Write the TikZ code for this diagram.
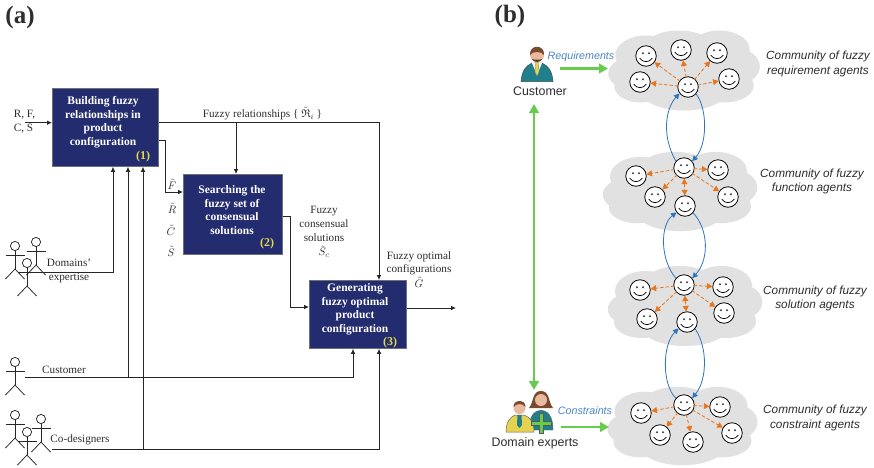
\documentclass[tikz,border=0pt]{standalone}
\usepackage{amssymb}
\usepackage{fontspec}
\setmainfont{Liberation Serif}
\newfontfamily\sansf{Liberation Sans}
\usetikzlibrary{arrows.meta,calc}
\definecolor{navy}{HTML}{232C6E}
\definecolor{boxedge}{HTML}{6E7078}
\definecolor{numyel}{HTML}{E4D94A}
\definecolor{txt}{HTML}{2E2E2E}
\definecolor{cloudg}{HTML}{E1E1E1}
\definecolor{orng}{HTML}{E8761C}
\definecolor{blueln}{HTML}{2F75BB}
\definecolor{bluetx}{HTML}{4A86C5}
\definecolor{grn}{HTML}{66CC4C}
\definecolor{teal1}{HTML}{1F7F8C}
\definecolor{skin}{HTML}{E9B9A0}
\definecolor{hair}{HTML}{7A4A30}
\definecolor{yel}{HTML}{E6D24E}
\tikzset{
  procbox/.style={draw=boxedge,line width=.8pt,fill=navy,anchor=north west,inner sep=0pt},
  boxtext/.style={text=white,align=center,font=\fontsize{11.5}{13.5}\selectfont\bfseries,inner sep=0pt},
  numtext/.style={text=numyel,font=\fontsize{12}{13}\selectfont\bfseries,inner sep=0pt},
  lbl/.style={text=txt,align=center,font=\fontsize{11.2}{13.7}\selectfont,inner sep=0pt},
  head/.style={font=\fontsize{25}{26}\selectfont\bfseries,text=txt,inner sep=0pt},
  sanslbl/.style={text=txt,font=\sansf\fontsize{12.4}{13}\selectfont,inner sep=0pt},
  bluelbl/.style={text=bluetx,font=\sansf\itshape\fontsize{10.7}{12}\selectfont,inner sep=0pt},
  cloudlbl/.style={text=txt,align=center,font=\sansf\itshape\fontsize{11.8}{14.5}\selectfont,inner sep=0pt},
  wire/.style={draw=black!85,line width=.8pt},
  wirearr/.style={wire,-{Latex[length=5pt,width=4.6pt]}},
  stick/.style={draw=black!85,line width=.75pt},
  grnarr/.style={draw=grn,line width=2.7pt,-{Triangle[length=9pt,width=9.5pt]}},
  grnboth/.style={draw=grn,line width=2.7pt,{Triangle[length=9pt,width=9.5pt]}-{Triangle[length=9pt,width=9.5pt]}},
  orarr/.style={draw=orng,line width=.8pt,dash pattern=on 3.5pt off 2pt,-{Triangle[length=5.5pt,width=6pt,fill=orng]},shorten <=-1pt},
  orboth/.style={draw=orng,line width=.8pt,dash pattern=on 3.5pt off 2pt,{Triangle[length=5.5pt,width=6pt,fill=orng]}-{Triangle[length=5.5pt,width=6pt,fill=orng]}},
  blarr/.style={draw=blueln,line width=.8pt,-{Triangle[length=5.5pt,width=5.5pt,fill=blueln]}},
  smiley/.style={circle,draw=black,line width=.8pt,fill=white,minimum size=20.5pt,inner sep=0pt,
    path picture={\begin{scope}[shift={(path picture bounding box.center)}]
      \fill[black!75] (-3,-2.8) circle[radius=1.15];
      \fill[black!75] (3,-2.8) circle[radius=1.15];
      \draw[black,line width=.7pt] (-6.3,2.2) .. controls (-3,6.8) and (3,6.8) .. (6.3,2.2);
    \end{scope}}},
}
\newcommand{\stickman}[2]{%
  \draw[stick] (#1,#2) circle[radius=4.6];
  \draw[stick] (#1,#2+4.6) -- (#1,#2+23);
  \draw[stick] (#1-9.5,#2+9.3) -- (#1+9.5,#2+9.3);
  \draw[stick] (#1-9.5,#2+33) -- (#1,#2+23) -- (#1+9.5,#2+33);
}
\newcommand{\cloudshape}[4]{%
  \begin{scope}[shift={(#1,#2)},xscale=#3,yscale=#4]
    \fill[cloudg] (0,0) ellipse[x radius=64,y radius=31]
      (-38,-15) ellipse[x radius=30,y radius=20]
      (-5,-23) ellipse[x radius=34,y radius=17]
      (35,-21) ellipse[x radius=30,y radius=19]
      (52,-4) ellipse[x radius=23,y radius=18]
      (-52,3) ellipse[x radius=23,y radius=16]
      (-42,16) ellipse[x radius=27,y radius=16]
      (0,21) ellipse[x radius=42,y radius=19]
      (40,15) ellipse[x radius=29,y radius=17];
  \end{scope}
}
\begin{document}
\begin{tikzpicture}[x=1pt,y=-1pt]
\useasboundingbox (0,0) rectangle (874,467);
\fill[white] (0,0) rectangle (874,467);

% ---------- panel (a)
\node[head] (pa) at (20,17) {(a)};
\node[procbox,minimum width=106pt,minimum height=78pt] (b1) at (52,88) {};
\node[procbox,minimum width=99pt,minimum height=80pt] (b2) at (183,174) {};
\node[procbox,minimum width=97pt,minimum height=68pt] (b3) at (309,280) {};
\node[boxtext] (t1) at (103,122) {Building fuzzy\\relationships in\\product\\configuration};
\node[boxtext] (t2) at (232,210) {Searching the\\fuzzy set of\\consensual\\solutions};
\node[boxtext] (t3) at (355,309.5) {Generating\\fuzzy optimal\\product\\configuration};
\node[numtext] (n1) at (143,156.5) {(1)};
\node[numtext] (n2) at (267,243.5) {(2)};
\node[numtext] (n3) at (390,343) {(3)};

\coordinate (inS) at (25,122.7);
\coordinate (relTurn) at (379,122);
\coordinate (relJ) at (236,122);
\coordinate (fOut) at (165,140);
\coordinate (fIn) at (165,192);
\coordinate (sOut) at (290,216);
\coordinate (sIn) at (290,307);
\coordinate (gOut) at (456,308);
\coordinate (domS) at (18,272);
\coordinate (domT) at (113,272);
\coordinate (cusS) at (25,377);
\coordinate (cusJ) at (128,377);
\coordinate (cusT) at (353,377);
\coordinate (codS) at (52,449);
\coordinate (codJ) at (143,450);
\coordinate (codT) at (379,449);

\draw[wirearr] (inS) -- (inS -| b1.west);
\draw[wirearr] (relTurn -| b1.east) -- (relTurn) -- (relTurn |- b3.north);
\draw[wirearr] (relJ) -- (relJ |- b2.north);
\draw[wirearr] (fOut -| b1.east) -- (fOut) -- (fIn) -- (fIn -| b2.west);
\draw[wirearr] (sOut -| b2.east) -- (sOut) -- (sIn) -- (sIn -| b3.west);
\draw[wirearr] (gOut -| b3.east) -- (gOut);
\draw[wirearr] (domS) -- (domT) -- (domT |- b1.south);
\draw[wirearr] (cusJ) -- (cusJ |- b1.south);
\draw[wirearr] (codJ) -- (codJ |- b1.south);
\draw[wirearr] (cusS) -- (cusT) -- (cusT |- b3.south);
\draw[wirearr] (codS) -- (codT) -- (codT |- b3.south);

\node[lbl,align=left] (lin) at (24.5,122) {R, F,\\C, S};
\node[lbl] (lrel) at (262.5,114) {Fuzzy relationships \{ $\tilde{\mathfrak{R}}_i$ \}};
\node[lbl] (lf) at (172,184) {$\tilde{F}$};
\node[lbl] (lr) at (172,208) {$\tilde{R}$};
\node[lbl] (lc) at (171,230) {$\tilde{C}$};
\node[lbl] (ls) at (171,251) {$\tilde{S}$};
\node[lbl] (lcons) at (324,232) {Fuzzy\\consensual\\solutions\\[1pt]$\tilde{S}_c$};
\node[lbl] (lopt) at (419,269.5) {Fuzzy optimal\\configurations\\[1pt]$\tilde{G}$};
\node[lbl] (ldom) at (69,271) {Domains'\\expertise};
\node[lbl] (lcus) at (64,370) {Customer};
\node[lbl] (lcod) at (80,440) {Co-designers};

\stickman{15}{246}\stickman{36}{242}\stickman{27}{263}
\stickman{15}{362}
\stickman{15}{415}\stickman{41}{419}\stickman{27}{432}

% ---------- panel (b)
\node[head] (pb) at (510,16) {(b)};
\cloudshape{684}{70.5}{1.01}{1}
\cloudshape{680}{191.5}{1.03}{.99}
\cloudshape{685}{306}{1.03}{1}
\cloudshape{682.5}{426}{1}{.98}

% cloud 1
\node[smiley] (c1a) at (646,56) {};
\node[smiley] (c1b) at (681,50) {};
\node[smiley] (c1c) at (717,53) {};
\node[smiley] (c1d) at (640,82) {};
\node[smiley] (c1e) at (729,79) {};
\node[smiley] (c1) at (688,87) {};
% cloud 2
\node[smiley] (c2a) at (636,176) {};
\node[smiley] (c2b) at (718,170) {};
\node[smiley] (c2c) at (655,197) {};
\node[smiley] (c2d) at (728,197) {};
\node[smiley] (c2e) at (685,206) {};
\node[smiley] (c2) at (684,168) {};
% cloud 3
\node[smiley] (c3a) at (640,290) {};
\node[smiley] (c3b) at (723,287) {};
\node[smiley] (c3c) at (647,319) {};
\node[smiley] (c3d) at (724,313) {};
\node[smiley] (c3e) at (687,322) {};
\node[smiley] (c3) at (684,285) {};
% cloud 4
\node[smiley] (c4a) at (641,413) {};
\node[smiley] (c4b) at (720,407) {};
\node[smiley] (c4c) at (660,435) {};
\node[smiley] (c4d) at (732,433) {};
\node[smiley] (c4e) at (693,442) {};
\node[smiley] (c4) at (684,405) {};

\foreach \t in {c1a,c1b,c1c,c1d,c1e}{\draw[orarr] (c1) -- (\t);}
\foreach \t in {c2a,c2b,c2c,c2d}{\draw[orarr] (c2) -- (\t);}
\draw[orboth] (c2) -- (c2e);
\foreach \t in {c3a,c3b,c3c,c3d}{\draw[orarr] (c3) -- (\t);}
\draw[orboth] (c3) -- (c3e);
\foreach \t in {c4a,c4b,c4c,c4d,c4e}{\draw[orarr] (c4) -- (\t);}

\draw[blarr] (c2.140) .. controls (661,135) and (666,108) .. (c1.217);
\draw[blarr] (c1.-40) .. controls (708,110) and (707,145) .. (c2.40);
\draw[blarr] (c3.140) .. controls (660,260) and (660,225) .. (c2e.217);
\draw[blarr] (c2e.-40) .. controls (709,230) and (709,260) .. (c3.40);
\draw[blarr] (c4.140) .. controls (662,385) and (662,345) .. (c3e.217);
\draw[blarr] (c3e.-40) .. controls (708,348) and (707,380) .. (c4.40);

% customer icon
\fill[teal1,draw=black!70,line width=.5pt] (521,81.5) .. controls (522,70) and (526,66) .. (532,63) -- (542,63) .. controls (548,66) and (552,70) .. (553,81.5) -- cycle;
\fill[white] (532,63) -- (542,63) -- (537,75) -- cycle;
\fill[yel,draw=black!50,line width=.3pt] (535.3,62.5) -- (538.7,62.5) -- (539,72) -- (537,76) -- (535,72) -- cycle;
\fill[skin] (537,55) circle[radius=7];
\fill[hair] (530,55) .. controls (529,44) and (545,44) .. (544,55) .. controls (542,51) and (532,51) .. (530,55) -- cycle;
\fill[hair!80!black] (532,59) .. controls (534,63) and (540,63) .. (542,59) .. controls (540,60) and (534,60) .. (532,59) -- cycle;
% experts icon
\fill[hair] (541,391) .. controls (532,391) and (534,402) .. (529,408) -- (553,408) .. controls (548,402) and (550,391) .. (541,391) -- cycle;
\fill[teal1,draw=black!60,line width=.4pt] (529,430) .. controls (529,416) and (534,411) .. (541,410) .. controls (548,411) and (553,416) .. (553,430) -- cycle;
\fill[skin] (541,400) circle[radius=6];
\fill[yel,draw=black!60,line width=.5pt] (506,432) .. controls (506,422) and (510,417) .. (515,415) -- (524,415) .. controls (530,417) and (534,422) .. (534,432) -- cycle;
\fill[teal1] (517.5,415) -- (521.5,415) -- (522,425) -- (519.5,428) -- (517,425) -- cycle;
\fill[skin] (519.5,408) circle[radius=6];
\fill[hair] (513.5,407) .. controls (513,399) and (526,399) .. (525.5,407) .. controls (522,403) and (517,403) .. (513.5,407) -- cycle;
\fill[grn,draw=black!65,line width=.5pt] (539,413) -- (543,413) -- (543,421) -- (551,421) -- (551,425) -- (543,425) -- (543,433) -- (539,433) -- (539,425) -- (531,425) -- (531,421) -- (539,421) -- cycle;

\node[sanslbl] (cust) at (540,91) {Customer};
\node[sanslbl] (dom) at (535,443) {Domain experts};
\node[bluelbl] (req) at (581,56.5) {Requirements};
\node[bluelbl] (con) at (585,410.5) {Constraints};

\coordinate (reqS) at (560,68.5);
\coordinate (reqT) at (608,68.5);
\coordinate (conS) at (561,427);
\coordinate (conT) at (609,427);
\coordinate (vT) at (534,104);
\coordinate (vB) at (534,390);
\draw[grnarr] (reqS) -- (reqT);
\draw[grnarr] (conS) -- (conT);
\draw[grnboth] (vT) -- (vB);

\node[cloudlbl] (cl1) at (818,64) {Community of fuzzy\\requirement agents};
\node[cloudlbl] (cl2) at (812,181.5) {Community of fuzzy\\function agents};
\node[cloudlbl] (cl3) at (815,298.5) {Community of fuzzy\\solution agents};
\node[cloudlbl] (cl4) at (815,418) {Community of fuzzy\\constraint agents};
\end{tikzpicture}
\end{document}
